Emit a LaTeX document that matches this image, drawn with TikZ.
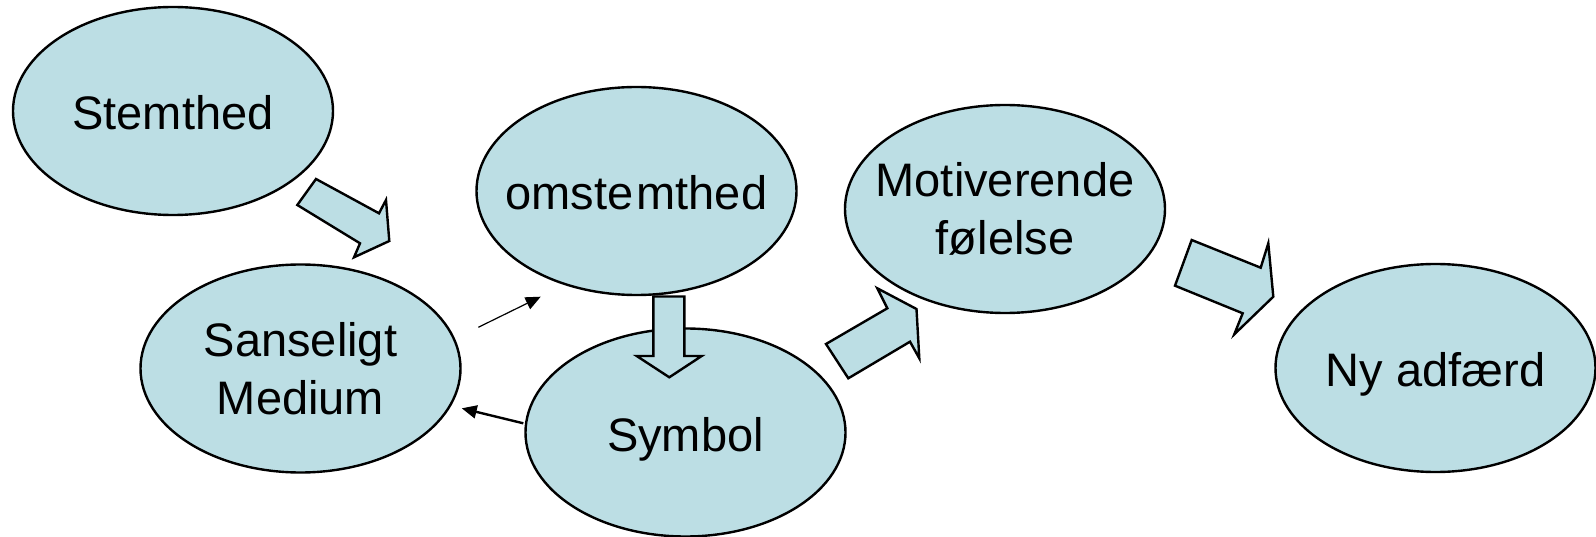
\documentclass[tikz,border=0pt]{standalone}
\usepackage{fontspec}
\setmainfont{Liberation Sans}
\usetikzlibrary{shapes.geometric,arrows.meta}
\definecolor{bubble}{RGB}{188,222,228}
\tikzset{
  bub/.style={ellipse, draw=black, fill=bubble, line width=2.4pt, inner sep=0pt,
    minimum width=320pt, minimum height=208pt, align=center,
    font=\fontsize{47}{58}\selectfont},
  oneline/.style={text height=37pt, text depth=0pt},
  blockarrow/.style={draw=black, fill=bubble, line width=2.4pt, line join=miter},
  thinarrow/.style={draw=black, -{Triangle[length=15pt,width=13pt]}}
}
\newcommand{\zb}[1]{\makebox[0pt][c]{#1}}
\begin{document}
\begin{tikzpicture}[x=1pt,y=-1pt]
\useasboundingbox (0,0) rectangle (1596,537);
\node[bub,oneline] (stem) at (173,111) {\zb{Stemthed}};
\node[bub] (sans) at (300.5,368.5) {\zb{Sanseligt}\\\zb{Medium}};
\node[bub,oneline] (om) at (636.5,191) {\zb{omste\kern3pt mthed}};
\node[bub,oneline] (sym) at (685.5,432.5) {\zb{Symbol}};
\node[bub] (mot) at (1005,209) {\zb{Motiverende}\\\zb{følelse}};
\node[bub,oneline] (ny) at (1435.5,368) {\zb{Ny adfærd}};
% block arrows
\draw[blockarrow] (316,179) -- (379,213.3) -- (386,200) -- (389.3,241) -- (354,257.3) -- (360,243.3) -- (297.3,205) -- cycle;
\draw[blockarrow] (653.3,296.5) -- (684.3,296.5) -- (684.3,356) -- (701.7,356) -- (669.3,377.3) -- (636.7,356) -- (653.3,356) -- cycle;
\draw[blockarrow] (826,344) -- (887.3,308.3) -- (877.3,288.3) -- (916.5,309) -- (919.3,358.3) -- (910,341.7) -- (848.3,378.3) -- cycle;
\draw[blockarrow] (1191.7,240) -- (1260.7,267.7) -- (1268.3,243.3) -- (1273.3,296.7) -- (1234.3,334.3) -- (1242.7,313.3) -- (1175,285.7) -- cycle;
% thin arrows
\coordinate (t1s) at (478.3,327.3);
\coordinate (t1e) at (540.7,296.7);
\draw[thinarrow, line width=1.2pt] (t1s) -- (t1e);
\coordinate (t2s) at (523.3,423.3);
\coordinate (t2e) at (461.7,408.3);
\draw[thinarrow, line width=2.4pt] (t2s) -- (t2e);
\end{tikzpicture}
\end{document}
